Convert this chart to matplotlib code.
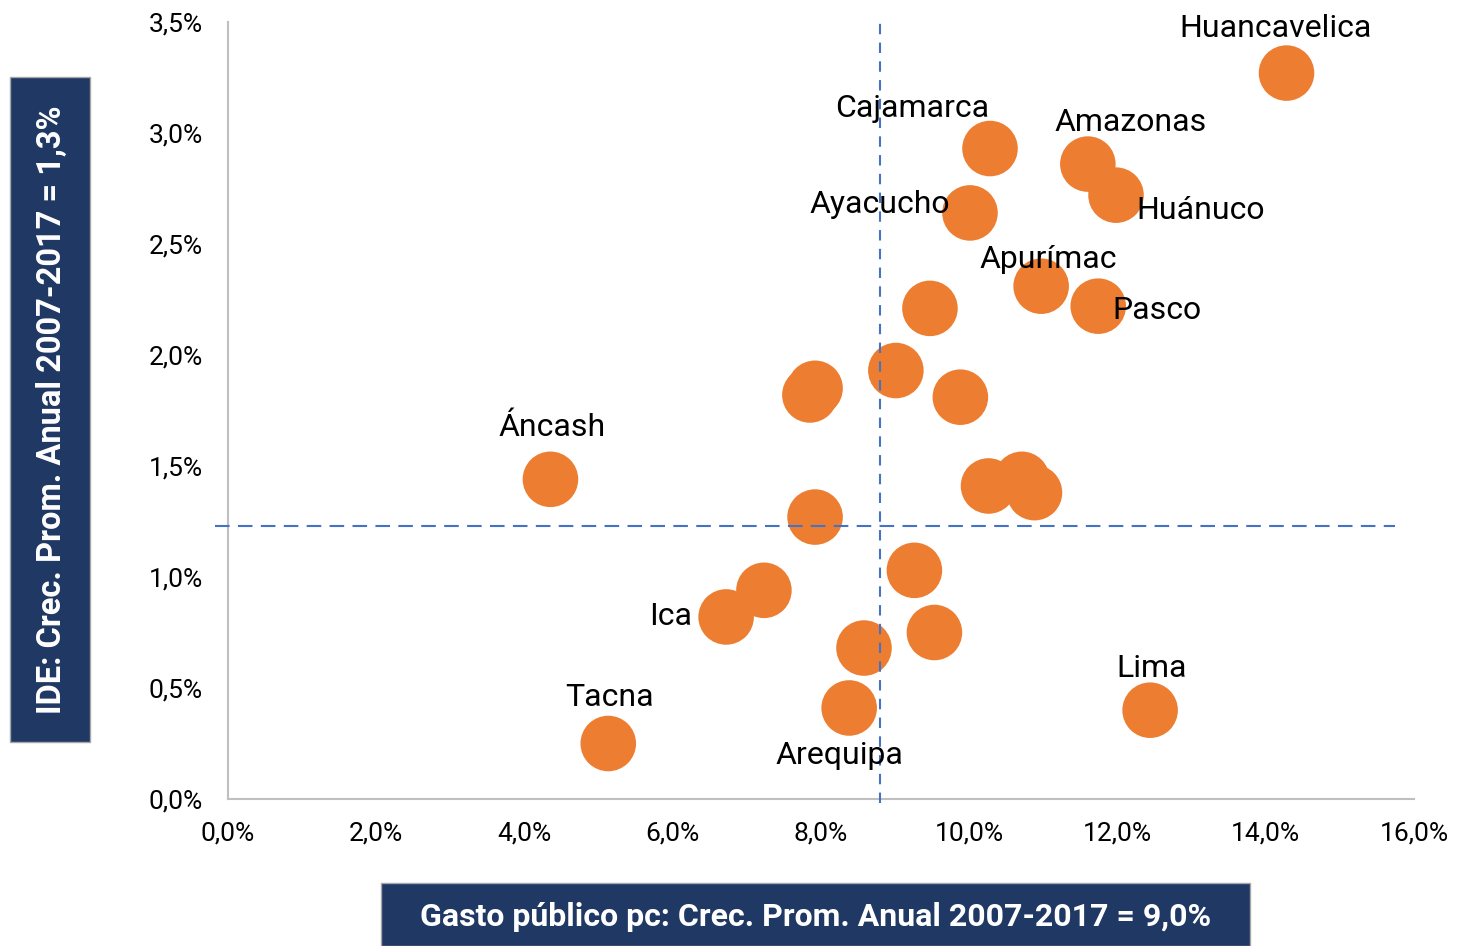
import matplotlib.pyplot as plt
from matplotlib.patches import Rectangle
from matplotlib.ticker import FuncFormatter

plt.rcParams['font.family'] = ['Roboto', 'DejaVu Sans']

# Data (growth rates in %)
gasto = [14.28, 10.28, 11.60, 11.98, 10.01, 10.97, 11.74, 9.47, 9.01, 7.92, 7.85,
         9.88, 4.35, 10.26, 10.71, 10.88, 7.92, 9.26, 7.23, 6.72, 9.53, 8.58,
         8.38, 12.44, 5.13]
ide = [3.27, 2.93, 2.86, 2.72, 2.64, 2.31, 2.22, 2.21, 1.93, 1.85, 1.82,
       1.81, 1.44, 1.41, 1.44, 1.38, 1.27, 1.03, 0.94, 0.82, 0.75, 0.68,
       0.41, 0.40, 0.25]
nombres = ['Huancavelica', 'Cajamarca', 'Amazonas', 'Huánuco', 'Ayacucho', 'Apurímac',
           'Pasco', '', '', '', '', '', 'Áncash', '', '', '', '', '', '', 'Ica', '', '',
           'Arequipa', 'Lima', 'Tacna']
# label offsets in points (dx, dy)
offsets = {'Huancavelica': (-8, 32), 'Cajamarca': (-56, 29), 'Amazonas': (31, 30),
           'Huánuco': (61, -11), 'Ayacucho': (-65, 6), 'Apurímac': (5, 19),
           'Pasco': (42, -3), 'Áncash': (1, 37), 'Ica': (-40, 0),
           'Tacna': (1, 33), 'Arequipa': (-7, -34), 'Lima': (1, 30)}

prom_gasto = 8.8
prom_ide = 1.23

fig = plt.figure(figsize=(14.58, 9.46), dpi=100)
ax = fig.add_axes([228/1458, 1-799/946, (1414-228)/1458, (799-22)/946])

ax.scatter(gasto, ide, s=1600, color='#ED7D31', edgecolors='none', zorder=2)

ax.plot([prom_gasto, prom_gasto], [-0.02, 3.5], color='#4472C4', lw=1.5,
        ls=(0, (5, 4)), clip_on=False, zorder=3)
ax.plot([-0.18, 15.75], [prom_ide, prom_ide], color='#4472C4', lw=1.5,
        ls=(0, (7, 4)), clip_on=False, zorder=3)

for x, y, n in zip(gasto, ide, nombres):
    if n:
        dx, dy = offsets[n]
        ax.annotate(n, (x, y), xytext=(dx, dy), textcoords='offset points',
                    ha='center', va='center', fontsize=23, color='black', zorder=4)

ax.set_xlim(0, 16)
ax.set_ylim(0, 3.5)
ax.set_xticks(range(0, 17, 2))
ax.set_yticks([0, 0.5, 1, 1.5, 2, 2.5, 3, 3.5])
fmt = FuncFormatter(lambda v, p: f'{v:.1f}%'.replace('.', ','))
ax.xaxis.set_major_formatter(fmt)
ax.yaxis.set_major_formatter(fmt)
ax.tick_params(axis='both', length=0, labelsize=19)
ax.tick_params(axis='x', pad=16)
ax.tick_params(axis='y', pad=18)
for s in ['top', 'right']:
    ax.spines[s].set_visible(False)
for s in ['left', 'bottom']:
    ax.spines[s].set_color('#BFBFBF')
    ax.spines[s].set_linewidth(1.5)

# Title boxes
navy = '#203864'
fig.patches.append(Rectangle((10/1458, 1-742/946), 80/1458, 665/946, transform=fig.transFigure,
                             facecolor=navy, edgecolor='#A6A6A6', lw=1))
fig.text(52/1458, 1-(77+742)/2/946, 'IDE: Crec. Prom. Anual 2007-2017 = 1,3%', rotation=90,
         ha='center', va='center', color='white', fontsize=23.5, fontweight='bold')
fig.patches.append(Rectangle((381/1458, 0), 869/1458, 63/946, transform=fig.transFigure,
                             facecolor=navy, edgecolor='#A6A6A6', lw=1))
fig.text((381+1250)/2/1458, 1-917/946, 'Gasto público pc: Crec. Prom. Anual 2007-2017 = 9,0%',
         ha='center', va='center', color='white', fontsize=23, fontweight='bold')

fig.savefig('out.png', dpi=100)
